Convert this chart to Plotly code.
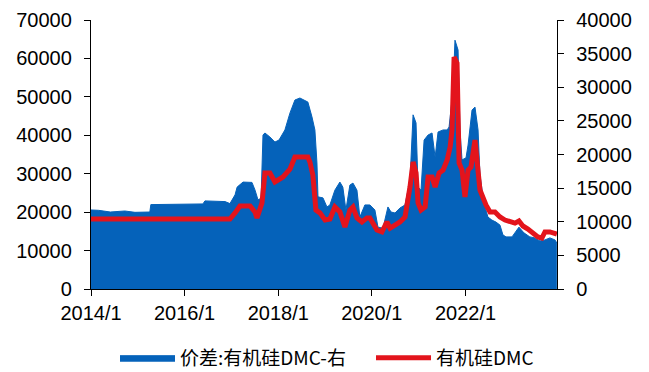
import plotly.graph_objects as go

# 价差:有机硅DMC (right axis)
spread_dates = [
    "2014-01-01", "2014-03-01", "2014-06-01", "2014-09-22", "2014-12-10", "2015-04-05",
    "2015-04-13", "2016-05-23", "2016-06-08", "2016-11-12", "2016-12-20", "2017-01-29",
    "2017-02-14", "2017-04-01", "2017-06-10", "2017-07-04", "2017-07-27", "2017-08-20",
    "2017-09-04", "2017-09-19", "2017-10-28", "2017-12-06", "2018-01-07", "2018-02-22",
    "2018-04-02", "2018-05-11", "2018-06-19", "2018-08-20", "2018-09-21", "2018-10-14",
    "2018-10-30", "2018-11-07", "2018-12-16", "2019-01-16", "2019-02-08", "2019-03-19",
    "2019-04-27", "2019-05-20", "2019-06-13", "2019-07-14", "2019-08-07", "2019-09-07",
    "2019-09-30", "2019-11-08", "2019-12-17", "2020-01-25", "2020-02-18", "2020-03-28",
    "2020-05-06", "2020-05-30", "2020-06-30", "2020-08-08", "2020-09-16", "2020-10-10",
    "2020-10-25", "2020-11-18", "2020-12-11", "2020-12-27", "2021-01-19", "2021-02-12",
    "2021-03-15", "2021-04-15", "2021-05-09", "2021-06-01", "2021-07-10", "2021-08-11",
    "2021-08-26", "2021-09-26", "2021-10-11", "2021-11-04", "2021-11-19", "2021-12-05",
    "2022-01-05", "2022-01-21", "2022-02-21", "2022-03-16", "2022-04-09", "2022-04-24",
    "2022-05-25", "2022-06-25", "2022-07-26", "2022-08-27", "2022-09-27", "2022-10-20",
    "2022-11-13", "2022-12-30", "2023-01-30", "2023-02-22", "2023-04-02", "2023-05-18",
    "2023-06-27", "2023-08-05", "2023-09-13", "2023-10-22", "2023-11-30", "2023-12-15",
]
spread_values = [
    11750, 11700, 11450, 11600, 11400, 11450,
    12550, 12650, 13100, 13000, 12700, 14000,
    15150, 15900, 15850, 14700, 13250, 13500,
    22900, 23200, 22600, 21850, 22150, 23650,
    26150, 28100, 28400, 27800, 25600, 23650,
    18750, 13700, 13550, 12200, 12500, 14700,
    15900, 15150, 11750, 15450, 15750, 14700,
    10700, 12500, 12500, 11750, 9200, 9050,
    12200, 11450, 11300, 12050, 12500, 15150,
    16200, 25900, 24700, 15150, 14700, 22150,
    22900, 23200, 19600, 23350, 23650, 23650,
    24100, 29600, 37000, 35550, 23650, 19200,
    19500, 21400, 26600, 27050, 23650, 16950,
    12800, 10700, 10250, 9950, 9500, 8050,
    7750, 7750, 8500, 9200, 8350, 7750,
    7600, 7150, 7300, 7600, 7300, 6850,
]

# 有机硅DMC (left axis)
dmc_dates = [
    "2014-01-01", "2016-12-20", "2017-01-29", "2017-03-08", "2017-05-26", "2017-07-04",
    "2017-07-19", "2017-08-27", "2017-09-19", "2017-10-28", "2017-12-06", "2018-02-07",
    "2018-04-02", "2018-05-11", "2018-08-20", "2018-09-05", "2018-09-28", "2018-10-22",
    "2018-11-22", "2019-01-01", "2019-02-08", "2019-03-19", "2019-04-27", "2019-06-05",
    "2019-07-14", "2019-08-07", "2019-09-07", "2019-10-16", "2019-11-24", "2019-12-17",
    "2020-02-10", "2020-03-20", "2020-04-28", "2020-05-22", "2020-06-30", "2020-08-08",
    "2020-09-16", "2020-10-10", "2020-10-25", "2020-11-18", "2020-12-11", "2020-12-27",
    "2021-01-19", "2021-02-20", "2021-03-15", "2021-04-15", "2021-05-09", "2021-06-09",
    "2021-07-10", "2021-08-11", "2021-09-03", "2021-09-18", "2021-10-04", "2021-10-27",
    "2021-11-12", "2021-12-05", "2021-12-28", "2022-01-21", "2022-02-13", "2022-03-16",
    "2022-04-09", "2022-04-24", "2022-06-10", "2022-07-11", "2022-08-19", "2022-09-27",
    "2022-11-05", "2022-12-14", "2023-01-22", "2023-02-22", "2023-03-25", "2023-05-03",
    "2023-06-11", "2023-07-20", "2023-08-20", "2023-09-13", "2023-10-22", "2023-11-30",
    "2023-12-15",
]
dmc_values = [
    18200, 18200, 19800, 21600, 21600, 20000,
    18500, 22400, 30200, 30200, 27850, 29150,
    31200, 34350, 34350, 33050, 29650, 20550,
    19800, 17950, 18200, 21350, 20050, 16150,
    20550, 21350, 18500, 17450, 18500, 18500,
    15350, 14850, 17450, 15850, 16650, 17450,
    18750, 23150, 26550, 33050, 30200, 22400,
    20550, 21350, 29150, 29150, 26550, 30200,
    30950, 33550, 36950, 41350, 60350, 58800,
    32800, 30950, 23950, 30950, 31750, 38750,
    30950, 25750, 21850, 20050, 20050, 18750,
    17950, 17450, 17150, 17700, 16400, 15600,
    14550, 13550, 13250, 14850, 14850, 14550,
    14300,
]

tick_dates = ["2014-01-01", "2016-01-01", "2018-01-01", "2020-01-01", "2022-01-01"]
tick_labels = ["2014/1", "2016/1", "2018/1", "2020/1", "2022/1"]

BLUE = "#0562BA"
RED = "#E3141C"
FONT = "Liberation Sans, Arial, sans-serif"

fig = go.Figure()
fig.add_trace(go.Scatter(
    x=spread_dates, y=spread_values, name="价差:有机硅DMC-右",
    mode="lines", fill="tozeroy", fillcolor=BLUE,
    line=dict(color=BLUE, width=1), yaxis="y", legend="legend",
))
fig.add_trace(go.Scatter(
    x=dmc_dates, y=dmc_values, name="有机硅DMC",
    mode="lines", line=dict(color=RED, width=5), yaxis="y2", legend="legend2",
))

axis_common = dict(
    showline=True, linecolor="black", linewidth=1.3, ticks="outside",
    ticklen=6, tickcolor="black", showgrid=False, zeroline=False,
    automargin=False,
    tickfont=dict(family=FONT, size=20, color="black"),
)

legend_common = dict(
    orientation="h", xref="container", xanchor="left",
    yref="container", y=0.038, yanchor="middle",
    font=dict(family="Noto Sans CJK SC", size=19, color="black"),
    itemwidth=55, bgcolor="rgba(0,0,0,0)",
)

fig.update_layout(
    width=649, height=372,
    margin=dict(l=91, r=92, t=20, b=83),
    paper_bgcolor="white", plot_bgcolor="white",
    showlegend=True,
    legend=dict(x=115 / 649, **legend_common),
    legend2=dict(x=371 / 649, **legend_common),
    xaxis=dict(
        type="date", range=["2014-01-01", "2023-12-16"],
        tickvals=tick_dates, ticktext=tick_labels, **axis_common,
    ),
    yaxis=dict(
        side="right", range=[0, 40000], dtick=5000, tickformat="d",
        ticklabelstandoff=8, **axis_common,
    ),
    yaxis2=dict(
        side="left", overlaying="y", range=[0, 70000], dtick=10000, tickformat="d",
        ticklabelstandoff=8, **axis_common,
    ),
)

fig.write_html(
    "out.html",
    config={"displayModeBar": False},
    post_script="document.body.style.margin='0px';",
)
